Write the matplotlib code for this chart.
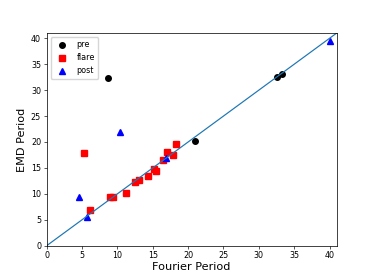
import matplotlib
matplotlib.use("Agg")
import matplotlib.pyplot as plt
import numpy as np

pre_fourier = [8.6, 21.0, 32.5, 33.3]
pre_emd = [32.4, 20.1, 32.6, 33.2]

flare_fourier = [5.3, 6.1, 9.0, 9.4, 11.2, 12.5, 13.1, 14.3, 15.2, 15.45, 16.5, 17.0, 17.9, 18.3]
flare_emd = [17.9, 6.8, 9.4, 9.4, 10.2, 12.3, 12.7, 13.5, 14.85, 14.4, 16.5, 18.05, 17.55, 19.7]

post_fourier = [4.6, 5.75, 10.3, 16.8, 40.0]
post_emd = [9.3, 5.6, 22.0, 16.9, 39.5]

line_range = [0, 41]

s = 0.58
fig = plt.figure(figsize=(3.74, 2.76), dpi=100)
ax = fig.add_subplot(111)
ms = 4.0
ax.plot(pre_fourier, pre_emd, 'ko', ms=ms, label='pre')
ax.plot(flare_fourier, flare_emd, 'rs', ms=ms, label='flare')
ax.plot(post_fourier, post_emd, 'b^', ms=ms, label='post')
ax.plot(line_range, line_range, color='C0', lw=1.5 * s)
ax.set_xlim(0, 41)
ax.set_ylim(0, 41)
ax.set_xlabel('Fourier Period', fontsize=14 * s, labelpad=1)
ax.set_ylabel('EMD Period', fontsize=14 * s, labelpad=3)
ax.tick_params(labelsize=10 * s, length=3.5 * s, width=0.8 * s, pad=3.5 * s)
for sp in ax.spines.values():
    sp.set_linewidth(0.9 * s)
ax.legend(loc='upper left', fontsize=10 * s, borderpad=0.4, handletextpad=0.8)
fig.savefig('out.png', dpi=100)
